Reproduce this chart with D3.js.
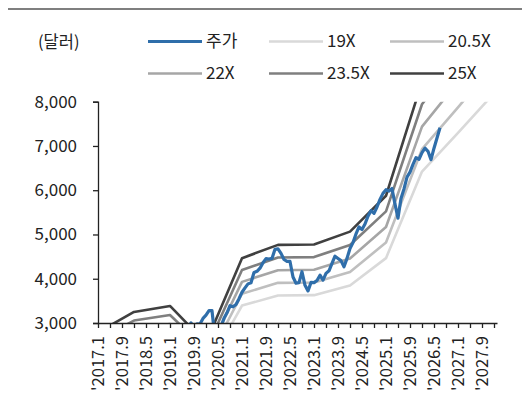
<!DOCTYPE html>
<html><head><meta charset="utf-8">
<script src="https://cdn.jsdelivr.net/npm/d3@7"></script>
<style>
html,body{margin:0;padding:0;background:#fff;}
svg{display:block;font-family:"Noto Sans CJK KR","Noto Sans",sans-serif;}
</style></head>
<body><svg id="c" width="522" height="394"></svg>
<script>
// ---- data ----
const priceStart = [2017, 1];           // first monthly value (plotted at month end)
const priceValues = [
  2275,2329,2366,2359,2395,2434,2454,2456,2493,2557,2594,2665,
  2790,2705,2703,2654,2702,2754,2794,2857,2902,2785,2723,2567,
  2607,2754,2804,2903,2854,2890,3003,2898,2983,2977,3104,3176,
  3278,3278,2653,2762,2920,3105,3231,3391,3366,3418,3549,3695,
  3794,3884,3910,4141,4168,4238,4363,4454,4446,4460,4667,4675,
  4573,4435,4392,4391,4040,3899,3911,4158,3851,3726,3917,3912,
  3961,4080,3968,4121,4180,4346,4509,4458,4409,4269,4460,4685,
  4816,5012,5170,5112,5236,5415,5538,5478,5621,5793,5929,6011,
  5980,6039,5684,5370,5811,6030,6297,6409,6584,6735,6700,6850,
  6950,6880,6690,6950,7180,7410
];
const bandYears = [2017,2018,2019,2020,2021,2022,2023,2024,2025,2026,2027,2028];
const band19  = [2120,2470,2573,1938,3393,3621,3629,3849,4465,6422,7296,8189];
const band205 = [2288,2665,2776,2091,3661,3907,3916,4153,4818,6929,7872,8836];
const band22  = [2455,2860,2979,2244,3929,4193,4202,4457,5170,7436,8448,9482];
const band235 = [2623,3055,3182,2397,4197,4479,4489,4761,5523,7943,9024,10129];
const band25  = [2790,3250,3385,2550,4465,4765,4775,5065,5875,8450,9600,10775];
const seriesNames = ["주가","19X","20.5X","22X","23.5X","25X"];
const seriesColors = ["#2f6eaa","#d9d9d9","#bfbfbf","#a6a6a6","#7f7f7f","#404040"];
const yTicks = [3000,4000,5000,6000,7000,8000];
const xTickStep = 4, xLabelStep = 8;
const unitLabel = "(달러)";

// ---- layout ----
const svg = d3.select("#c");
const X0 = 98, X1 = 497, Y0 = 323, Y1 = 101.7;
const x = d3.scaleLinear().domain([0,133]).range([X0,X1]);
const y = d3.scaleLinear().domain([3000,8000]).range([Y0,Y1]);
const ink = "#222";

// top rule
svg.append("line").attr("x1",8).attr("x2",522).attr("y1",9).attr("y2",9)
  .attr("stroke","#7f7f7f").attr("stroke-width",2);

// unit
svg.append("text").attr("x",38).attr("y",42).attr("dy","0.35em")
  .attr("font-size",16.5).attr("fill",ink).text(unitLabel);

// legend
const legPos = [[148,41.5],[269,41.5],[390,41.5],[148,73.5],[269,73.5],[390,73.5]];
seriesNames.forEach((n,i)=>{
  const [lx,ly]=legPos[i];
  svg.append("line").attr("x1",lx).attr("x2",lx+54).attr("y1",ly).attr("y2",ly)
    .attr("stroke",seriesColors[i]).attr("stroke-width",i===0?3.2:2.6);
  svg.append("text").attr("x",lx+58).attr("y",ly).attr("dy","0.35em")
    .attr("font-size",17).attr("fill",ink).text(n);
});

// clip
svg.append("defs").append("clipPath").attr("id","pa").append("rect")
  .attr("x",X0).attr("y",Y1).attr("width",X1-X0+2).attr("height",Y0-Y1);

const g = svg.append("g").attr("clip-path","url(#pa)");
const line = d3.line().x(d=>x(d[0])).y(d=>y(d[1]));

const bands = [band19,band205,band22,band235,band25];
bands.forEach((b,i)=>{
  const pts = b.map((v,j)=>[(bandYears[j]-2017)*12, v]);
  g.append("path").attr("d",line(pts)).attr("fill","none")
    .attr("stroke",seriesColors[i+1]).attr("stroke-width",2.6).attr("stroke-linejoin","round");
});
const pricePts = priceValues.map((v,k)=>[(priceStart[0]-2017)*12 + (priceStart[1]-1) + k + 1, v]);
g.append("path").attr("d",line(pricePts)).attr("fill","none")
  .attr("stroke",seriesColors[0]).attr("stroke-width",3.2).attr("stroke-linejoin","round");

// y axis
const yAx = svg.append("g").attr("transform",`translate(${X0},0)`)
  .call(d3.axisLeft(y).tickValues(yTicks).tickSize(5).tickFormat(d3.format(",")));
yAx.select(".domain").attr("stroke",ink).attr("stroke-width",1.3);
yAx.selectAll(".tick line").attr("stroke",ink).attr("stroke-width",1.3);
yAx.selectAll(".tick text").attr("x",-21).attr("font-size",17).attr("fill",ink)
  .attr("font-family","\"Noto Sans CJK KR\",sans-serif");

// x axis
const xt = d3.range(0,133,xTickStep);
const xAx = svg.append("g").attr("transform",`translate(0,${Y0})`)
  .call(d3.axisBottom(x).tickValues(xt).tickSize(5).tickSizeOuter(0)
    .tickFormat(m=> m%xLabelStep===0 ? "'"+(2017+Math.floor(m/12))+"."+(m%12+1) : ""));
xAx.select(".domain").attr("stroke",ink).attr("stroke-width",1.3);
xAx.selectAll(".tick line").attr("stroke",ink).attr("stroke-width",1.3);
xAx.selectAll(".tick text").attr("font-size",16.5).attr("fill",ink)
  .attr("font-family","\"Noto Sans CJK KR\",sans-serif")
  .attr("transform","rotate(-90)").attr("text-anchor","end")
  .attr("x",-13).attr("y",0).attr("dy","0.35em");
</script></body></html>
